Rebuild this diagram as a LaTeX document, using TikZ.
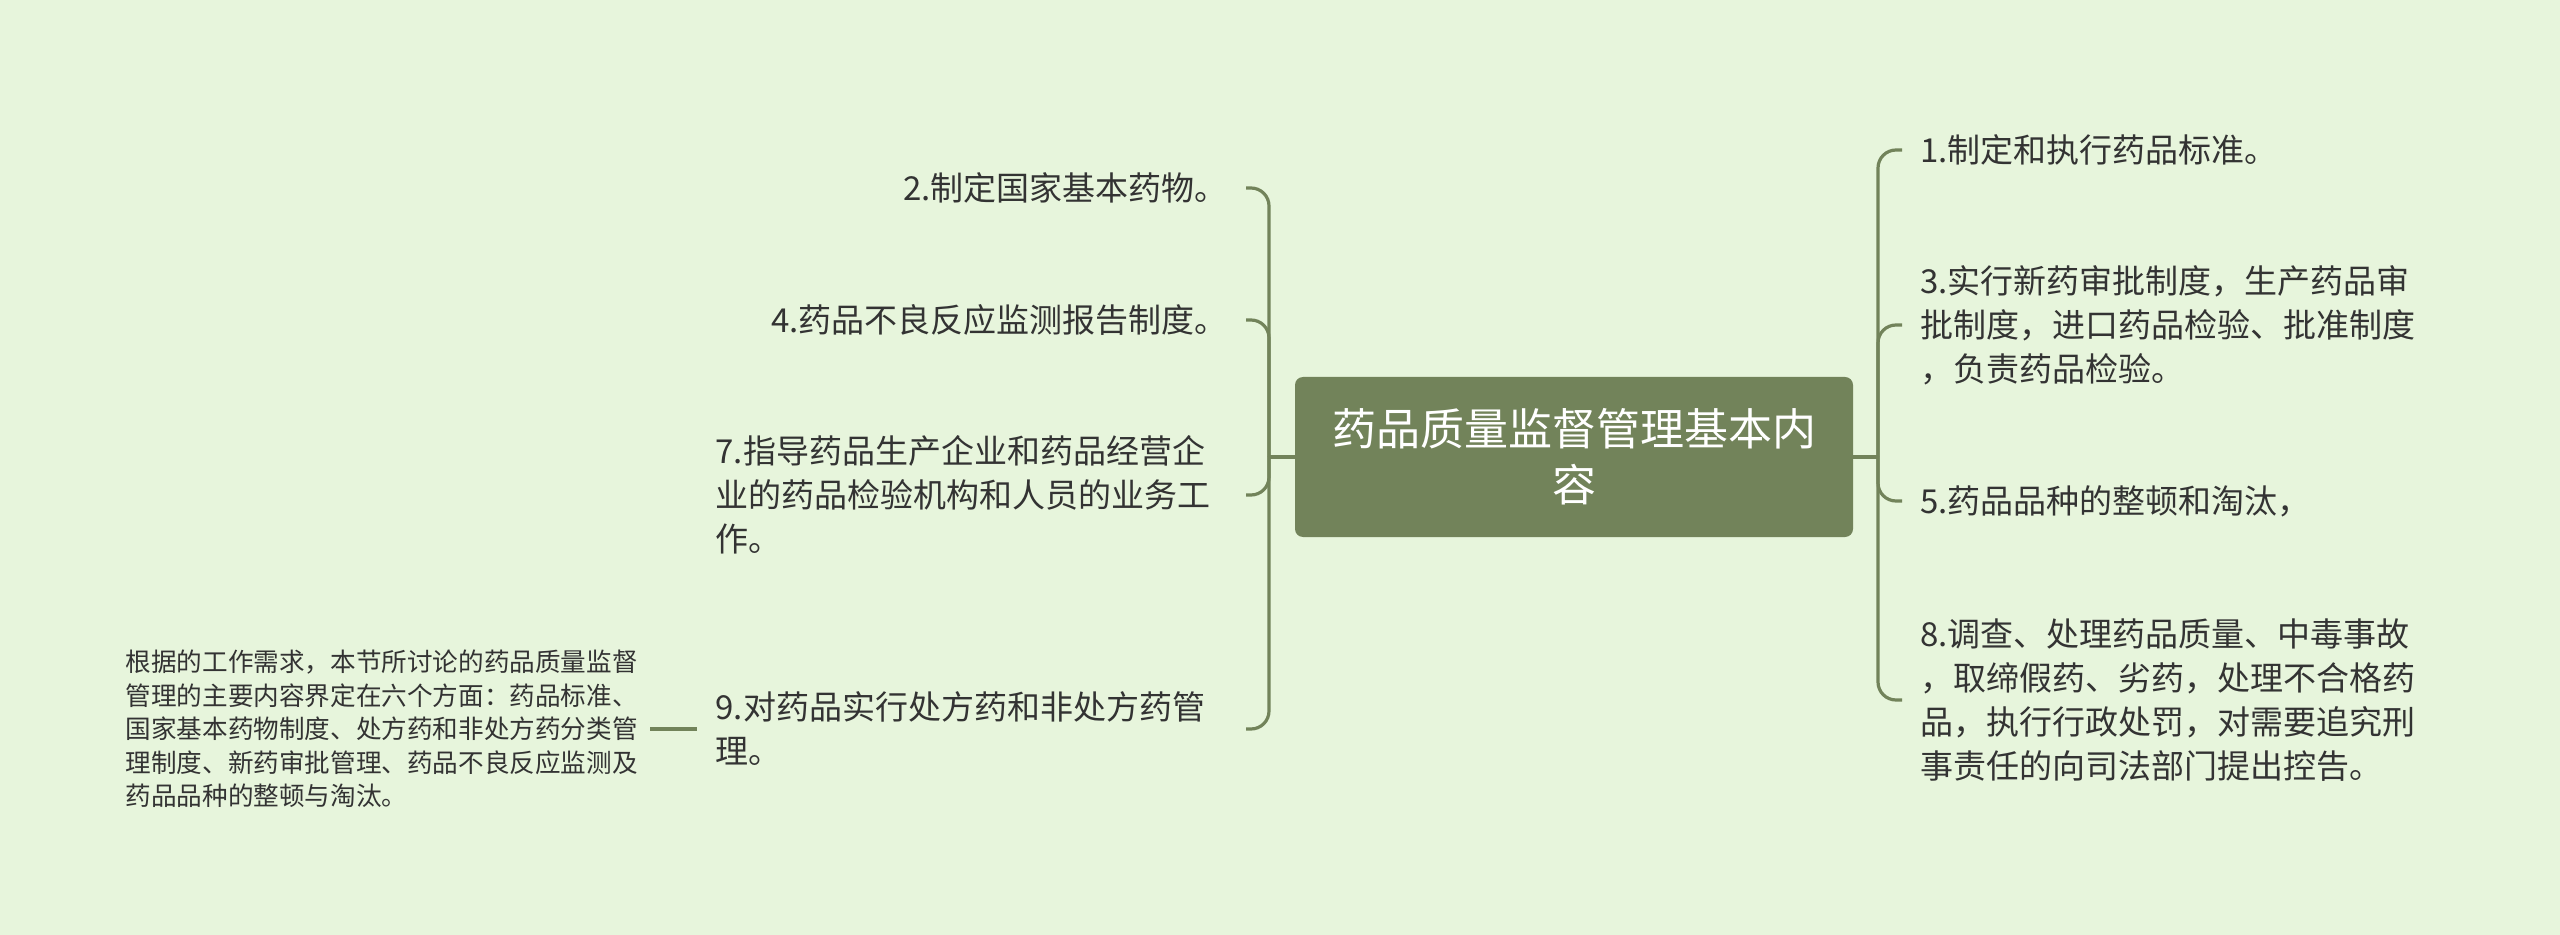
\documentclass[tikz,border=0pt]{standalone}
\usepackage{fontspec}
\newfontfamily\cjk{Noto Sans CJK SC}
\definecolor{bgcol}{HTML}{E7F5DC}
\definecolor{mapgreen}{HTML}{72835A}
\definecolor{inkgray}{HTML}{333333}

\begin{document}
\begin{tikzpicture}[x=0.5pt,y=-0.5pt,
    rootbox/.style={fill=mapgreen,rounded corners=4pt,minimum width=279pt,minimum height=80pt,
      align=center,text=white,font=\cjk\fontsize{22}{27.8}\selectfont},
    item/.style={inner xsep=9pt,inner ysep=4pt,align=left,text=inkgray,
      font=\cjk\fontsize{16.5}{22}\selectfont},
    memobox/.style={inner xsep=6pt,align=left,text=inkgray,font=\cjk\fontsize{12.8}{16.75}\selectfont},
    branch/.style={draw=mapgreen,line width=1.6pt,rounded corners=9pt}]

            \fill[bgcol] (0,0) rectangle (2560,935);
            \useasboundingbox (0,0) rectangle (2560,935);

            \node[rootbox] (root) at (1574,457) {药品质量监督管理基本内\\容};
            \coordinate (rj) at (1878,457);
            \coordinate (lj) at (1269,457);

            \node[item,anchor=west] (r1) at (1902,150) {1.制定和执行药品标准。};
            \node[item,anchor=west] (r3) at (1902,325) {3.实行新药审批制度，生产药品审\\批制度，进口药品检验、批准制度\\，负责药品检验。};
            \node[item,anchor=west] (r5) at (1902,501) {5.药品品种的整顿和淘汰，};
            \node[item,anchor=west] (r8) at (1902,700) {8.调查、处理药品质量、中毒事故\\，取缔假药、劣药，处理不合格药\\品，执行行政处罚，对需要追究刑\\事责任的向司法部门提出控告。};

            \node[item,anchor=east] (l2) at (1246,188) {2.制定国家基本药物。};
            \node[item,anchor=east] (l4) at (1246,320) {4.药品不良反应监测报告制度。};
            \node[item,anchor=east,text width=256pt] (l7) at (1246,495) {7.指导药品生产企业和药品经营企\\业的药品检验机构和人员的业务工\\作。};
            \node[item,anchor=east,text width=256pt] (l9) at (1246,729) {9.对药品实行处方药和非处方药管\\理。};
            \node[memobox,anchor=east] (memo) at (650,729) {根据的工作需求，本节所讨论的药品质量监督\\管理的主要内容界定在六个方面：药品标准、\\国家基本药物制度、处方药和非处方药分类管\\理制度、新药审批管理、药品不良反应监测及\\药品品种的整顿与淘汰。};

            \draw[branch] (root.east) -- (rj);
            \foreach \n in {r1,r3,r5,r8}
                \draw[branch] (rj) |- (\n.west);
            \draw[branch] (root.west) -- (lj);
            \foreach \n in {l2,l4,l7,l9}
                \draw[branch] (lj) |- (\n.east);
            \draw[branch] (memo.east) -- (l9.west);

\end{tikzpicture}
\end{document}
